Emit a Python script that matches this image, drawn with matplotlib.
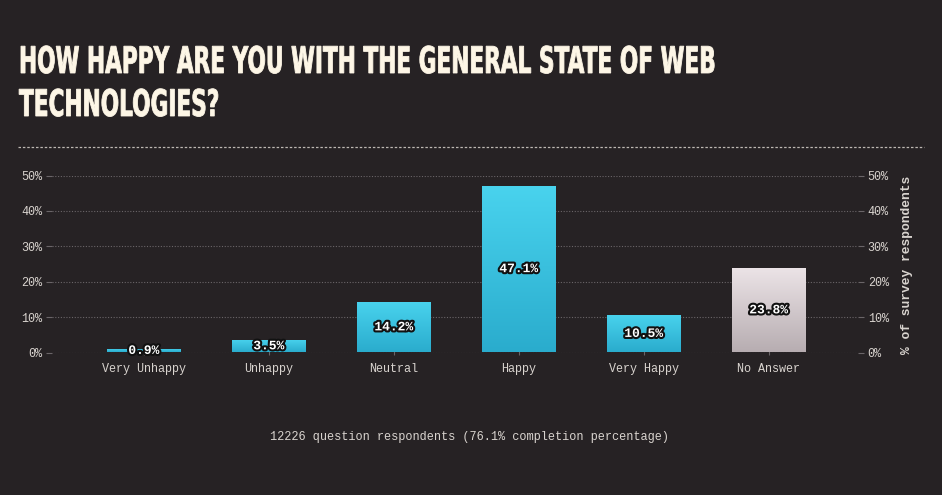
import matplotlib
matplotlib.use("Agg")
import matplotlib.pyplot as plt
import matplotlib.patheffects as pe
from matplotlib.transforms import Affine2D
import numpy as np

categories = ["Very Unhappy", "Unhappy", "Neutral", "Happy", "Very Happy", "No Answer"]
values = [0.9, 3.5, 14.2, 47.1, 10.5, 23.8]
no_answer = [False, False, False, False, False, True]
yticks = [0, 10, 20, 30, 40, 50]
title_lines = ["HOW HAPPY ARE YOU WITH THE GENERAL STATE OF WEB", "TECHNOLOGIES?"]
footer = "12226 question respondents (76.1% completion percentage)"
right_label = "% of survey respondents"

BG = "#262224"
TXT = "#d9d4cf"
MONO = ["Liberation Mono", "DejaVu Sans Mono"]


class Stretch(pe.AbstractPathEffect):
    # make the glyphs taller (no condensed display font installed)
    def __init__(self, sy, lw=0.0, color=None):
        super().__init__()
        self.sy, self.lw, self.color = sy, lw, color

    def draw_path(self, renderer, gc, tpath, affine, rgbFace=None):
        aff = Affine2D().scale(1, self.sy) + affine
        gc0 = renderer.new_gc()
        gc0.copy_properties(gc)
        if self.lw:
            gc0.set_linewidth(self.lw)
            gc0.set_foreground(self.color)
            gc0.set_joinstyle("miter")
        renderer.draw_path(gc0, tpath, aff, rgbFace)
        gc0.restore()


W, H = 942, 495
fig = plt.figure(figsize=(W / 100, H / 100), dpi=100)
fig.patch.set_facecolor(BG)

ax = fig.add_axes([52 / W, (H - 352.5) / H, (858 - 52) / W, 177 / H])
ax.set_facecolor(BG)
x = np.arange(len(categories))
bars = ax.bar(x, values, width=0.59, color="none", zorder=3)

grad = np.linspace(0, 1, 256).reshape(-1, 1)
cyan = matplotlib.colors.LinearSegmentedColormap.from_list("c", ["#2aaccd", "#49d3ee"])
grey = matplotlib.colors.LinearSegmentedColormap.from_list("g", ["#b7adb1", "#ece4e7"])
for b, v, na in zip(bars, values, no_answer):
    x0, w = b.get_x(), b.get_width()
    im = ax.imshow(grad, extent=(x0, x0 + w, 0, v), origin="lower", aspect="auto",
                   cmap=grey if na else cyan, zorder=3)
    im.set_clip_path(b)
    ax.text(x0 + w / 2, v / 2, f"{v}%", ha="center", va="center", color="white",
            fontsize=9.3, fontweight="bold", family=MONO, zorder=5,
            path_effects=[pe.withStroke(linewidth=3, foreground="#111")])
ax.set_xlim(-0.735, 5.715)
ax.set_ylim(0, 50)

ax.set_yticks(yticks)
ax.set_yticklabels([f"{t}%" for t in yticks])
ax.yaxis.grid(True, linestyle=(0, (1, 1.5)), color="#6a6568", linewidth=0.8, zorder=0)
ax.tick_params(axis="y", left=True, right=True, labelleft=True, labelright=True,
               colors="#6a6568", labelcolor=TXT, labelsize=8.5, length=4, width=0.8, pad=3)
ax.set_xticks(x)
ax.set_xticklabels(categories)
ax.tick_params(axis="x", colors="#6a6568", labelcolor=TXT, labelsize=8.5, length=3, width=0.8, pad=6,
               direction="inout")
for lbl in ax.get_xticklabels() + ax.get_yticklabels():
    lbl.set_family(MONO)
for t in ax.yaxis.get_major_ticks():
    t.label2.set_family(MONO)
for s in ax.spines.values():
    s.set_visible(False)

fig.text(907 / W, (H - 265) / H, right_label, rotation=90, ha="center", va="center",
         color=TXT, fontsize=9.4, fontweight="bold", family=MONO)

# title: pick the size that gives the reference width, then stretch to its cap height
probe = fig.text(0, 0, title_lines[0], fontsize=26.5, fontweight="bold", family="DejaVu Sans")
fig.canvas.draw()
nat_w = probe.get_window_extent().width
probe.remove()
fs = 26.5 * (715 - 19) / nat_w
sy = 26.5 / fs
for line, base in zip(title_lines, [73, 116]):
    fig.text(19 / W, (H - base) / H, line, ha="left", va="baseline", color="#fdf6e6",
             fontsize=fs, fontweight="bold", family="DejaVu Sans",
             path_effects=[Stretch(sy, lw=0.6, color="#fdf6e6")])

fig.add_artist(plt.Line2D([18 / W, 924 / W], [(H - 147) / H] * 2, color="#bdb8b3",
                          linewidth=0.9, linestyle=(0, (2, 1.5))))

fig.text(470 / W, (H - 437) / H, footer, ha="center", va="center", color=TXT,
         fontsize=8.6, family=MONO)

fig.savefig("out.png", dpi=100, facecolor=BG)
